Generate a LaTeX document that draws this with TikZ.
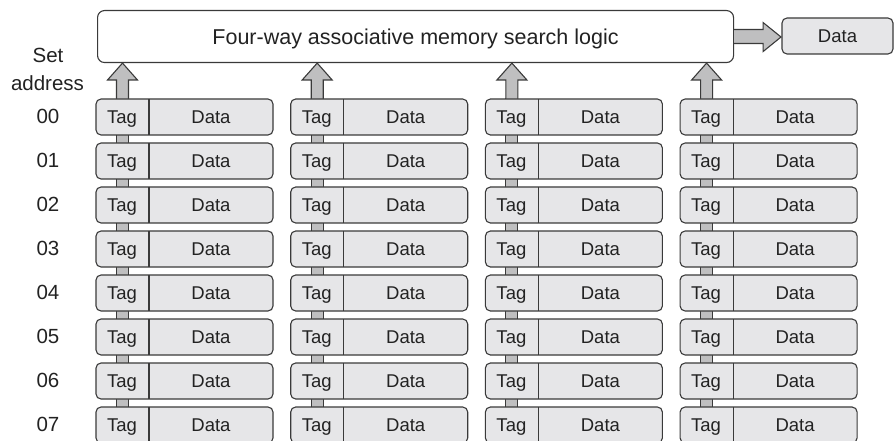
\documentclass[tikz,border=0pt]{standalone}
\usepackage{fontspec}
\setmainfont{Liberation Sans}
\usetikzlibrary{calc}
\definecolor{linec}{HTML}{3A3A3A}
\definecolor{boxc}{HTML}{E6E6E8}
\definecolor{arrc}{HTML}{BFBFC0}
\definecolor{textc}{HTML}{222222}
\pgfdeclarelayer{bg}
\pgfsetlayers{bg,main}
\begin{document}
\begin{tikzpicture}[x=1pt,y=-1pt,
  rowbox/.style={draw=linec, line width=1.1pt, rounded corners=5pt, fill=boxc,
    minimum height=36pt, minimum width=177pt, inner sep=0pt, outer sep=0pt, anchor=north west},
  txt/.style={font=\fontsize{18.5}{22}\selectfont, text=textc, inner sep=0pt, anchor=base},
  lbl/.style={font=\fontsize{20.5}{24}\selectfont, text=textc, inner sep=0pt, anchor=base},
  arr/.style={draw=linec, line width=1.1pt, fill=arrc, line join=miter},
  divline/.style={draw=linec, line width=1.1pt}
]
\useasboundingbox (0,0) rectangle (895,441);
\clip (0,0) rectangle (895,441);

% main search logic box
\node[draw=linec, line width=1.1pt, rounded corners=7pt, fill=white,
  minimum width=636pt, minimum height=52pt, inner sep=0pt, anchor=north west] (main) at (97,10) {};
\node[font=\fontsize{21.5}{25}\selectfont, text=textc, inner sep=0pt, anchor=base] (title)
  at ($(main.center)+(0,7.7)$) {Four-way associative memory search logic};

% output data box
\node[rowbox, minimum width=111pt] (out) at (782,18) {};
\node[txt] (outt) at ($(out.center)+(0,6.6)$) {Data};

% right arrow
\draw[arr] ($(main.east)+(0,-7)$) -- ++(29,0) -- ++(0,-7) -- ($(out.west)+(-1,1)$)
  -- ($(main.east)+(29,15)$) -- ++(0,-8) -- ($(main.east)+(0,7)$);

% labels
\node[lbl] (setl) at (48,62.5) {Set};
\node[lbl] (addrl) at (47.5,90.5) {address};

\foreach \r in {0,...,7} {
  \pgfmathsetmacro\yt{99+44*\r}
  \node[lbl] (lab-\r) at (48,\yt+24.5) {0\r};
}

\foreach \c in {0,1,2,3} {
  \pgfmathsetmacro\xl{96+194.7*\c}
  \foreach \r in {0,...,7} {
    \pgfmathsetmacro\yt{99+44*\r}
    \node[rowbox] (b-\c-\r) at (\xl,\yt) {};
    \draw[divline] ($(b-\c-\r.north west)+(53,0)$) -- ($(b-\c-\r.south west)+(53,0)$);
    \node[txt] (t-\c-\r) at ($(b-\c-\r.west)+(26,6.6)$) {Tag};
    \node[txt] (d-\c-\r) at ($(b-\c-\r.west)+(115,6.6)$) {Data};
  }
  \begin{pgfonlayer}{bg}
    \coordinate (top-\c) at ($(b-\c-0.north west)+(26.5,0)$);
    \coordinate (tip-\c) at (top-\c |- main.south);
    \draw[arr] ($(top-\c)+(-6,0)$) rectangle ($(top-\c)+(6,360)$);
    \draw[arr] ($(top-\c)+(-6,1)$) -- ($(top-\c)+(-6,-19)$) -- ($(top-\c)+(-15,-19)$)
      -- (tip-\c) -- ($(top-\c)+(15,-19)$) -- ($(top-\c)+(6,-19)$) -- ($(top-\c)+(6,1)$);
  \end{pgfonlayer}
}
\end{tikzpicture}
\end{document}
